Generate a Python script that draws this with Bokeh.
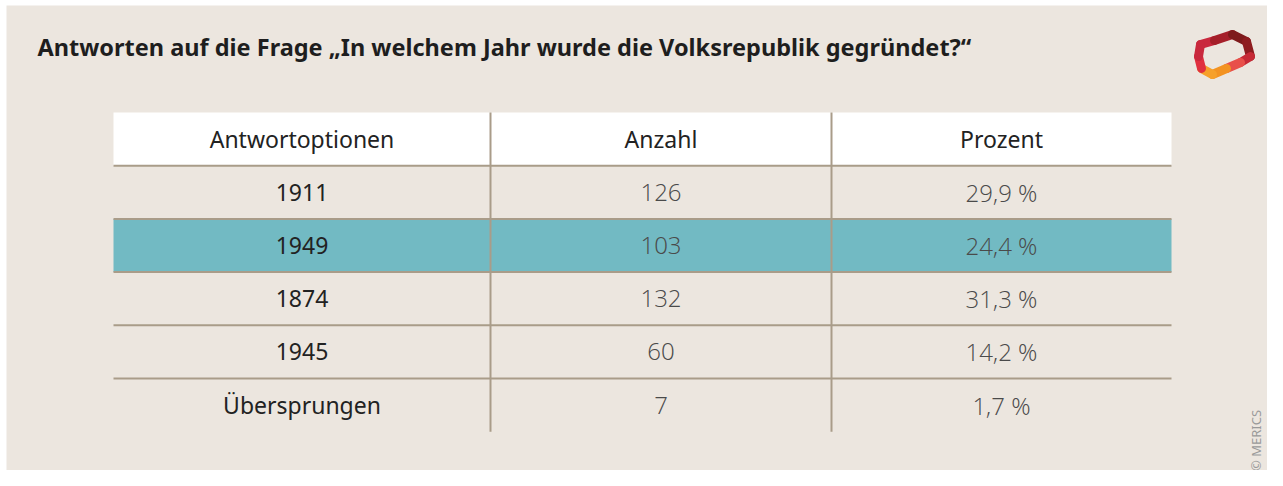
import numpy as np
from bokeh.plotting import figure
from bokeh.models import Range1d
from bokeh.core.properties import value
from bokeh.embed import file_html
from bokeh.resources import INLINE

# ---- data ----
headers = ["Antwortoptionen", "Anzahl", "Prozent"]
options = ["1911", "1949", "1874", "1945", "Übersprungen"]
counts = [126, 103, 132, 60, 7]
percents = [29.9, 24.4, 31.3, 14.2, 1.7]
highlight = "1949"
title = "Antworten auf die Frage \u201eIn welchem Jahr wurde die Volksrepublik gegründet?\u201c"

W, H = 1267, 470
BG = "#ECE6DF"
LINE = "#A99C89"
TEAL = "#72BAC3"
FONT = value("Noto Sans")
LIGHT = value("'Open Sans Light', 'Open Sans'")

p = figure(width=W, height=H, output_backend="svg", toolbar_location=None,
           x_range=Range1d(0, W), y_range=Range1d(H, 0), min_border=0)
p.axis.visible = False
p.grid.visible = False
p.outline_line_color = None
p.background_fill_color = "white"
p.border_fill_color = "white"

# beige panel
p.quad(left=[6], right=[W], top=[5], bottom=[H], fill_color=BG, line_color=None)

# table geometry (pixels)
cols = [113, 490, 831, 1171]
tl, tr = cols[0], cols[-1]
top = 112
rh = 53.2
n = len(options)
row_tops = [top + rh * (i + 1) for i in range(n)]
centers = [(cols[i] + cols[i + 1]) / 2 for i in range(3)]

# header background
p.quad(left=[tl], right=[tr], top=[top], bottom=[top + rh], fill_color="white", line_color=None)
# highlighted row
hi = options.index(highlight)
p.quad(left=[tl], right=[tr], top=[row_tops[hi]], bottom=[row_tops[hi] + rh],
       fill_color=TEAL, line_color=None)

# horizontal separators
p.segment(x0=[tl] * n, x1=[tr] * n, y0=row_tops, y1=row_tops, line_color=LINE, line_width=2)
# vertical separators
bottom = top + rh * (n + 1)
p.segment(x0=cols[1:3], x1=cols[1:3], y0=[top, top], y1=[bottom, bottom], line_color=LINE, line_width=2)

# header text
p.text(x=centers, y=[top + rh / 2] * 3, text=headers, text_align="center", text_baseline="middle",
       text_font=FONT, text_font_size="23px", text_color="#222222")

# cells
ys = [t + rh / 2 for t in row_tops]
p.text(x=[centers[0]] * n, y=ys, text=options, text_align="center", text_baseline="middle",
       text_font=FONT, text_font_size="23px", text_color="#222222")
p.text(x=[centers[1]] * n, y=ys, text=[str(c) for c in counts], text_align="center",
       text_baseline="middle", text_font=LIGHT, text_font_size="24px", text_color="#4A4A4A")
p.text(x=[centers[2]] * n, y=ys, text=[f"{v:.1f} %".replace(".", ",") for v in percents],
       text_align="center", text_baseline="middle", text_font=LIGHT, text_font_size="24px",
       text_color="#4A4A4A")

# title
p.text(x=[37], y=[46], text=[title], text_align="left", text_baseline="middle",
       text_font=FONT, text_font_size="23.5px", text_font_style="bold", text_color="#1E1E1E")

# copyright
p.text(x=[1255], y=[440], text=["© MERICS"], angle=np.pi / 2, text_align="center",
       text_baseline="middle", text_font=FONT, text_font_size="13px", text_color="#9A9A9A")

# logo (decorative loop)
lx = [1200, 1214, 1232, 1246, 1250, 1240, 1226, 1212, 1201, 1198, 1200]
ly = [44, 40, 34, 41, 56, 62, 68, 74, 68, 56, 44]
logo_cols = ["#C9283D", "#A51F2A", "#7E1A1C", "#8E1C20", "#C62A36", "#E8504A",
             "#F39322", "#F6A02A", "#E0303F", "#C9283D"]
p.segment(x0=lx[:-1], y0=ly[:-1], x1=lx[1:], y1=ly[1:], line_color=logo_cols, line_width=9,
          line_cap="round")

open("out.html", "w").write(file_html(p, INLINE))
